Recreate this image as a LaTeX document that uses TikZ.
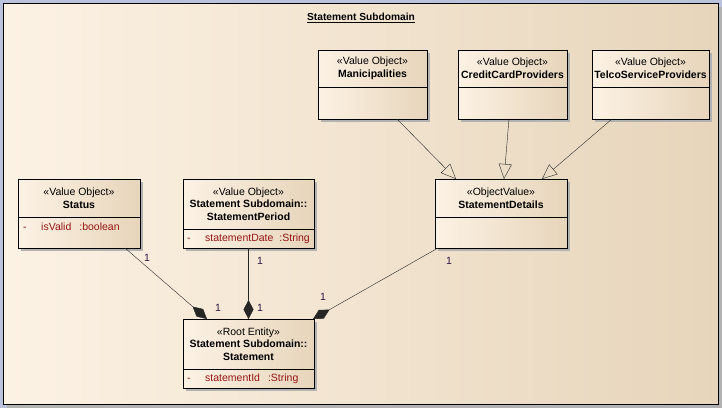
\documentclass[tikz,border=0pt]{standalone}
\usepackage{fontspec}
\setmainfont{Liberation Sans}
\usetikzlibrary{arrows.meta, positioning, shadows, calc}
\definecolor{creamcolor}{RGB}{252,242,228}
\definecolor{tancolor}{RGB}{231,213,187}
\definecolor{attrcolor}{RGB}{150,20,20}
\definecolor{multcolor}{RGB}{50,20,70}
\definecolor{outercolor}{RGB}{186,194,222}
\definecolor{shadowcolor}{RGB}{178,178,178}

\begin{document}
\begin{tikzpicture}[
    x=1pt, y=-1pt,
    every node/.style={font=\fontsize{10.5}{12.6}\selectfont},
    classhead/.style={draw, inner sep=0pt, outer sep=0pt, align=center, left color=creamcolor, right color=tancolor,
        drop shadow={shadow xshift=3pt, shadow yshift=-3pt, fill=shadowcolor, opacity=1}},
    classbody/.style={classhead, below=0pt of #1},
    attr/.style={anchor=north west, inner sep=0pt, text=attrcolor},
    mult/.style={inner sep=0pt, text=multcolor},
    inherit/.style={draw=black!85, -{Triangle[open, length=15pt, width=13pt]}},
    compose/.style={draw=black!85, -{Diamond[length=19pt, width=10pt]}}
]
    \useasboundingbox (0,0) rectangle (722,408);
    % Window background and frame
    \fill[outercolor] (0,0) rectangle (722,408);
    \fill[shadowcolor] (7,7) rectangle (722,408);
    \node[draw, line width=1pt, inner sep=0pt, minimum width=715pt, minimum height=401pt,
        left color=creamcolor, middle color=creamcolor, right color=tancolor] (subdomain) at (360.5,203.5) {};
    \node[font=\fontsize{10.2}{12}\selectfont\bfseries] (title) at (361,18) {\underline{Statement Subdomain}};

    % Value objects
    \node[classhead, minimum width=109pt, minimum height=37pt] (mani) at (372.5,68.5) {«Value Object»\\\textbf{Manicipalities}};
    \node[classbody=mani, minimum width=109pt, minimum height=32pt] (mani-body) {};
    \node[classhead, minimum width=109pt, minimum height=37pt] (credit) at (512.5,68.5) {«Value Object»\\\textbf{CreditCardProviders}};
    \node[classbody=credit, minimum width=109pt, minimum height=32pt] (credit-body) {};
    \node[classhead, minimum width=117pt, minimum height=37pt] (telco) at (650.5,68.5) {«Value Object»\\\textbf{TelcoServiceProviders}};
    \node[classbody=telco, minimum width=117pt, minimum height=32pt] (telco-body) {};

    \node[classhead, minimum width=122pt, minimum height=38pt] (status) at (79,198) {«Value Object»\\\textbf{Status}};
    \node[classbody=status, minimum width=122pt, minimum height=31pt] (status-body) {};
    \node[attr] (status-isvalid) at ([xshift=5pt, yshift=-6pt]status-body.north west) {\makebox[18pt][l]{-}isValid\hspace{8pt}:boolean};

    \node[classhead, minimum width=131pt, minimum height=50pt] (period) at (248.5,204) {«Value Object»\\\textbf{Statement Subdomain::}\\\textbf{StatementPeriod}};
    \node[classbody=period, minimum width=131pt, minimum height=19pt] (period-body) {};
    \node[attr, anchor=west] (period-date) at ([xshift=4pt]period-body.west) {\makebox[18pt][l]{-}statementDate\hspace{6pt}:String};

    \node[classhead, minimum width=132pt, minimum height=38pt] (details) at (501,198) {«ObjectValue»\\\textbf{StatementDetails}};
    \node[classbody=details, minimum width=132pt, minimum height=31pt] (details-body) {};

    % Root entity
    \node[classhead, minimum width=131pt, minimum height=50pt] (statement) at (248.5,344) {«Root Entity»\\\textbf{Statement Subdomain::}\\\textbf{Statement}};
    \node[classbody=statement, minimum width=131pt, minimum height=19pt] (statement-body) {};
    \node[attr, anchor=west] (statement-id) at ([xshift=4pt]statement-body.west) {\makebox[18pt][l]{-}statementId\hspace{8pt}:String};

    % Generalizations
    \draw[inherit] ([xshift=24.5pt]mani-body.south) -- ([xshift=-45pt]details.north);
    \draw[inherit] ([xshift=-3.5pt]credit-body.south) -- ([xshift=3pt]details.north);
    \draw[inherit] ([xshift=-38.5pt]telco-body.south) -- ([xshift=41pt]details.north);

    % Compositions
    \draw[compose] ([xshift=46pt]status-body.south) -- ([xshift=-41.5pt]statement.north);
    \draw[compose] (period-body.south) -- (statement.north);
    \draw[compose] ([xshift=-63pt]details-body.south) -- ([xshift=-1pt]statement.north east);

    % Multiplicities
    \node[mult] (m1) at (147,258) {1};
    \node[mult] (m2) at (218,308) {1};
    \node[mult] (m3) at (260,261) {1};
    \node[mult] (m4) at (260,308) {1};
    \node[mult] (m5) at (449,261) {1};
    \node[mult] (m6) at (323,297) {1};
\end{tikzpicture}
\end{document}
